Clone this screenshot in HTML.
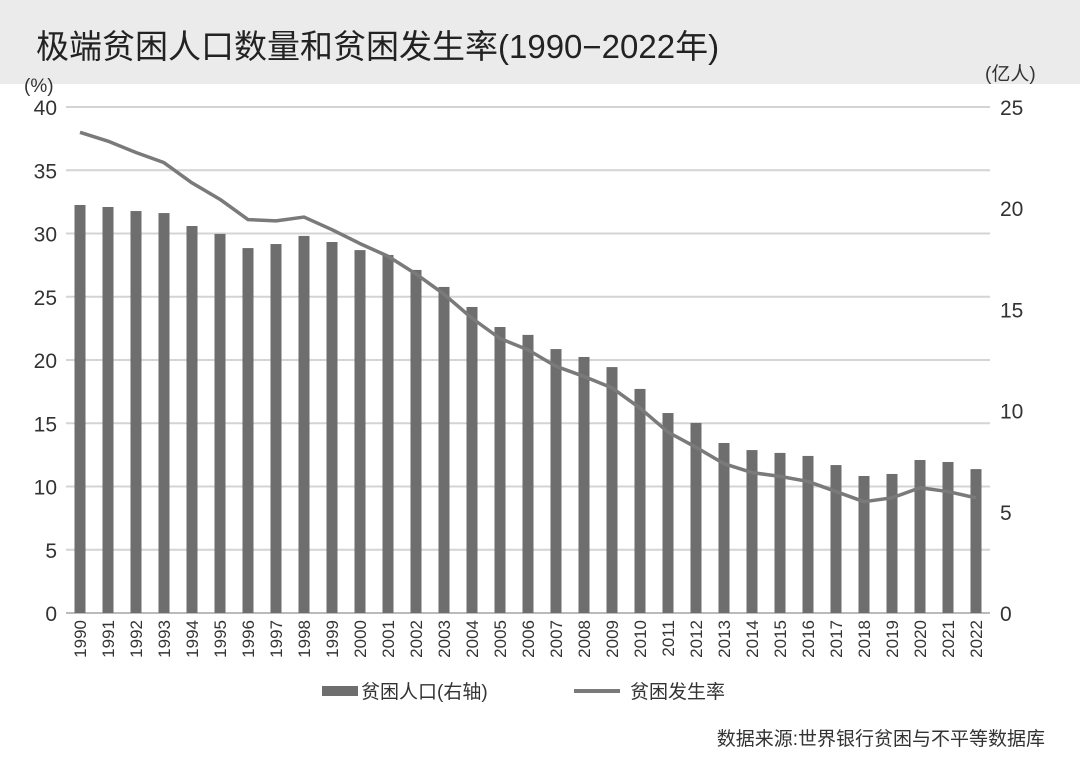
<!DOCTYPE html>
<html><head><meta charset="utf-8"><style>
body{margin:0;background:#fff;}
svg text{font-family:"Liberation Sans","Noto Sans CJK SC",sans-serif;fill:#333;}
</style></head><body>
<svg width="1080" height="779" viewBox="0 0 1080 779">
<rect x="0" y="0" width="1080" height="84" fill="#ebebeb"/>
<text x="36" y="58" font-size="33" fill="#222" style="fill:#222">极端贫困人口数量和贫困发生率(1990−2022年)</text>
<text x="24" y="92" font-size="19">(%)</text>
<text x="985" y="80" font-size="19">(亿人)</text>
<g id="grid"></g><g id="bars"></g><g id="line"></g><g id="axes"></g>
<g>
<rect x="322" y="686" width="36" height="10" fill="#6e6e6e"/>
<text x="361" y="698" font-size="19">贫困人口(右轴)</text>
<rect x="574" y="689" width="46" height="4" fill="#7a7a7a"/>
<text x="630" y="698" font-size="19">贫困发生率</text>
</g>
<text x="1045" y="745" font-size="19" text-anchor="end">数据来源:世界银行贫困与不平等数据库</text>
</svg>
<script>
const years=[];for(let y=1990;y<=2022;y++)years.push(String(y));
const population=[20.16,20.06,19.86,19.76,19.12,18.73,18.03,18.23,18.63,18.33,17.93,17.69,16.95,16.11,15.12,14.13,13.74,13.04,12.65,12.15,11.07,9.88,9.39,8.40,8.05,7.91,7.76,7.31,6.77,6.87,7.56,7.46,7.11];
const rate=[38.0,37.3,36.4,35.6,34.0,32.7,31.1,31.0,31.3,30.3,29.2,28.2,26.8,25.2,23.3,21.7,20.8,19.5,18.7,17.8,16.2,14.3,13.1,11.8,11.1,10.8,10.4,9.6,8.8,9.1,9.9,9.6,9.1];
const leftTicks=[0,5,10,15,20,25,30,35,40];
const rightTicks=[0,5,10,15,20,25];
const NS="http://www.w3.org/2000/svg";
const x0=66,x1=990,yTop=107,yBot=613;
const step=(x1-x0)/years.length;
const xPos=i=>x0+step*(i+0.5);
const yL=v=>yBot-(v/40)*(yBot-yTop);
const yR=v=>yBot-(v/25)*(yBot-yTop);
function mk(tag,attrs,parent){const e=document.createElementNS(NS,tag);for(const k in attrs)e.setAttribute(k,attrs[k]);document.getElementById(parent).appendChild(e);return e;}
leftTicks.forEach(t=>{
 const l=mk('line',{x1:x0,x2:x1,y1:yL(t),y2:yL(t),stroke:t===0?'#bbb':'#d4d4d4','stroke-width':2},'grid');
 
 
 const tx=mk('text',{x:57,y:yL(t)+8,'font-size':21,'text-anchor':'end'},'axes');tx.textContent=t;
 
 
});
rightTicks.forEach(t=>{
 const tx=mk('text',{x:1000,y:yR(t)+8,'font-size':21},'axes');tx.textContent=t;
 
 
});
population.forEach((v,i)=>{
 const r=mk('rect',{x:xPos(i)-5.5,y:yR(v),width:11,height:yBot-yR(v),fill:'#6e6e6e'},'bars');
 
 
 const tx=mk('text',{'font-size':17,'text-anchor':'end',transform:`translate(${xPos(i)+6},620) rotate(-90)`},'axes');tx.textContent=years[i];
 
 
});
const p=mk('polyline',{points:rate.map((v,i)=>xPos(i)+','+yL(v)).join(' '),fill:'none',stroke:'#7a7a7a','stroke-width':3.5,'stroke-linejoin':'round'},'line');


</script>
</body></html>
